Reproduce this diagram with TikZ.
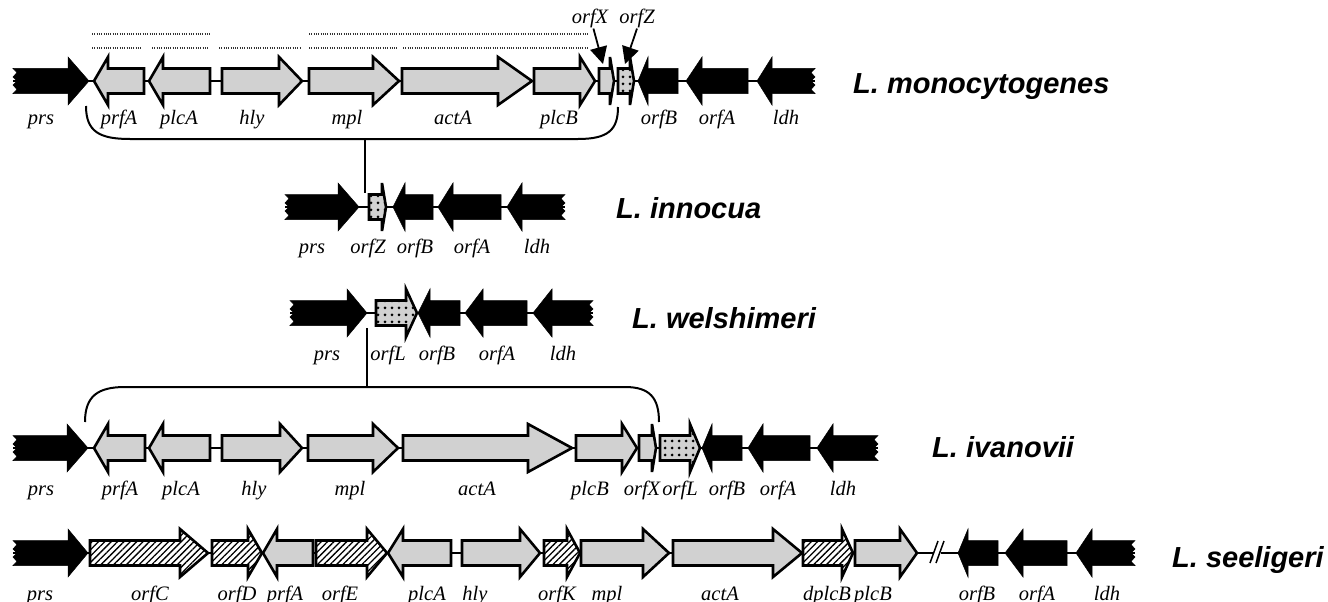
\documentclass[tikz,border=0pt]{standalone}
\usepackage{fontspec}
\setmainfont{Liberation Serif}
\newfontfamily\spfont{Liberation Sans}
\usetikzlibrary{arrows.meta,patterns.meta}
\definecolor{genegray}{gray}{0.82}
\tikzstyle{gray gene}=[draw=black,line width=2.6pt,fill=genegray]
\tikzstyle{dot gene}=[draw=black,line width=2.6pt,preaction={fill=genegray},pattern={Dots[distance=7pt,radius=1.5pt]}]
\tikzstyle{hatch gene}=[draw=black,line width=2.6pt,preaction={fill=white},pattern={Lines[angle=45,distance=4.5pt,line width=1.3pt]}]
\tikzstyle{black gene}=[fill=black,draw=black,line width=0.5pt]
\tikzstyle{backbone}=[line width=1.5pt]
\tikzstyle{bracket}=[line width=2pt]
\tikzstyle{region}=[line width=1.7pt,black!80,dash pattern=on 1pt off 1.3pt]
\tikzstyle{pointer}=[line width=1.8pt,-{Triangle[length=17pt,width=17pt]}]
\tikzstyle{genelabel}=[font=\itshape\fontsize{20.5}{24}\selectfont,anchor=base,inner sep=0]
\tikzstyle{species}=[font=\spfont\bfseries\itshape\fontsize{29}{34}\selectfont,anchor=base west,inner sep=0]
% gene arrows: [style]{left}{head base}{tip}{y} and [style]{tip}{head base}{right}{y}
\newcommand{\geneR}[5][gray gene]{\draw[#1] (#2,#5-12.5) -- (#3,#5-12.5) -- (#3,#5-24) -- (#4,#5) -- (#3,#5+24) -- (#3,#5+12.5) -- (#2,#5+12.5) -- cycle;}
\newcommand{\geneL}[5][gray gene]{\draw[#1] (#2,#5) -- (#3,#5-24) -- (#3,#5-12.5) -- (#4,#5-12.5) -- (#4,#5+12.5) -- (#3,#5+12.5) -- (#3,#5+24) -- cycle;}
% cut ends: prs and ldh
\newcommand{\prsgene}[4]{\draw[black gene] (#1,#4-12.5) -- (#2,#4-12.5) -- (#2,#4-24) -- (#3,#4) -- (#2,#4+24) -- (#2,#4+12.5) -- (#1,#4+12.5) -- (#1+4,#4+8.5) -- (#1,#4+4) -- (#1+4,#4) -- (#1,#4-4) -- (#1+4,#4-8.5) -- cycle;}
\newcommand{\ldhgene}[4]{\draw[black gene] (#1,#4) -- (#2,#4-24) -- (#2,#4-12.5) -- (#3,#4-12.5) -- (#3-4,#4-8.5) -- (#3,#4-4) -- (#3-4,#4) -- (#3,#4+4) -- (#3-4,#4+8.5) -- (#3,#4+12.5) -- (#2,#4+12.5) -- (#2,#4+24) -- cycle;}

\begin{document}
\begin{tikzpicture}[x=1pt,y=-1pt]
	\useasboundingbox[fill=white] (0,0) rectangle (1328,602);

	% L. monocytogenes
	\draw[backbone] (13,81) -- (815,81);
	\prsgene{13}{68}{89}{81}
	\geneL{94}{108}{144}{81}
	\geneL{149}{163}{210}{81}
	\geneR{222}{279}{302}{81}
	\geneR{309}{373}{399}{81}
	\geneR{402}{498}{532}{81}
	\geneR{534}{580}{595}{81}
	\geneR{599}{610}{614}{81}
	\geneR[dot gene]{618}{630}{634}{81}
	\geneL[black gene]{638}{648}{678}{81}
	\geneL[black gene]{686}{702}{748}{81}
	\ldhgene{757}{772}{815}{81}
	\foreach \a/\b in {92/210,309/588} \draw[region] (\a,34) -- (\b,34);
	\foreach \a/\b in {92/142,152/209,219/300,309/397,403/588} \draw[region] (\a,48) -- (\b,48);
	\foreach \x/\g [count=\i] in {41/prs,119/prfA,179/plcA,252/hly,347/mpl,453/actA,559/plcB,659/orfB,717/orfA,786/ldh}
		\node[genelabel] (mono\i) at (\x,124) {\g};
	\node[genelabel] (lblX) at (590,24) {orfX};
	\node[genelabel] (lblZ) at (637,24) {orfZ};
	\coordinate (tipX) at (603,64);
	\coordinate (tipZ) at (625,64);
	\draw[pointer] (lblX.south east) ++(-15,0) -- (tipX);
	\draw[pointer] (lblZ.south) -- (tipZ);
	\node[species] (mono) at (853,93) {L. monocytogenes};

	% bracket to L. innocua
	\coordinate (b1l) at (86,106);
	\coordinate (b1r) at (618,107);
	\coordinate (b1m) at (365,139);
	\coordinate (innotop) at (365,193);
	\draw[bracket] (b1l) .. controls (86,132) and (100,139) .. (130,139) -- (578,139) .. controls (608,139) and (618,130) .. (b1r);
	\draw[bracket] (b1m) -- (innotop);

	% L. innocua
	\draw[backbone] (285,207) -- (565,207);
	\prsgene{285}{338}{359}{207}
	\geneR[dot gene]{369}{382}{386}{207}
	\geneL[black gene]{393}{405}{433}{207}
	\geneL[black gene]{438}{453}{501}{207}
	\ldhgene{507}{522}{565}{207}
	\foreach \x/\g [count=\i] in {312/prs,368/orfZ,415/orfB,472/orfA,537/ldh}
		\node[genelabel] (inno\i) at (\x,253) {\g};
	\node[species] (inno) at (616,218) {L. innocua};

	% L. welshimeri
	\draw[backbone] (290,313) -- (593,313);
	\prsgene{290}{347}{367}{313}
	\geneR[dot gene]{376}{406}{417}{313}
	\geneL[black gene]{418}{430}{460}{313}
	\geneL[black gene]{465}{483}{527}{313}
	\ldhgene{533}{552}{593}{313}
	\foreach \x/\g [count=\i] in {327/prs,388/orfL,437/orfB,497/orfA,563/ldh}
		\node[genelabel] (wels\i) at (\x,360) {\g};
	\node[species] (wels) at (632,328) {L. welshimeri};

	% bracket to L. ivanovii
	\coordinate (b2l) at (85,422);
	\coordinate (b2r) at (659,422);
	\coordinate (b2m) at (367,387);
	\coordinate (welsbot) at (367,328);
	\draw[bracket] (b2l) .. controls (85,396) and (98,387) .. (125,387) -- (625,387) .. controls (650,387) and (659,398) .. (b2r);
	\draw[bracket] (welsbot) -- (b2m);

	% L. ivanovii
	\draw[backbone] (13,448) -- (878,448);
	\prsgene{13}{67}{88}{448}
	\geneL{94}{108}{145}{448}
	\geneL{149}{163}{210}{448}
	\geneR{222}{280}{302}{448}
	\geneR{308}{373}{398}{448}
	\geneR{403}{528}{572}{448}
	\geneR{576}{622}{637}{448}
	\geneR{639}{652}{656}{448}
	\geneR[dot gene]{660}{690}{700}{448}
	\geneL[black gene]{702}{712}{742}{448}
	\geneL[black gene]{748}{763}{810}{448}
	\ldhgene{817}{833}{878}{448}
	\foreach \x/\g [count=\i] in {41/prs,120/prfA,181/plcA,254/hly,350/mpl,477/actA,590/plcB,642/orfX,680/orfL,727/orfB,778/orfA,843/ldh}
		\node[genelabel] (ivan\i) at (\x,495) {\g};
	\node[species] (ivan) at (932,457) {L. ivanovii};

	% L. seeligeri
	\draw[backbone] (13,553) -- (933,553);
	\draw[backbone] (941,553) -- (1135,553);
	\draw[line width=1.5pt] (930,563) -- (938,541) (936,563) -- (944,541);
	\prsgene{13}{68}{88}{553}
	\geneR[hatch gene]{90}{180}{208}{553}
	\geneR[hatch gene]{212}{248}{262}{553}
	\geneL{263}{277}{313}{553}
	\geneR[hatch gene]{316}{367}{387}{553}
	\geneL{388}{403}{451}{553}
	\geneR{462}{520}{540}{553}
	\geneR[hatch gene]{544}{567}{580}{553}
	\geneR{581}{643}{669}{553}
	\geneR{673}{773}{802}{553}
	\geneR[hatch gene]{803}{842}{853}{553}
	\geneR{855}{900}{917}{553}
	\geneL[black gene]{958}{968}{998}{553}
	\geneL[black gene]{1005}{1023}{1067}{553}
	\ldhgene{1076}{1092}{1135}{553}
	\foreach \x/\g [count=\i] in {40/prs,150/orfC,237/orfD,285/prfA,340/orfE,427/plcA,475/hly,557/orfK,607/mpl,720/actA,827/dplcB,873/plcB,977/orfB,1037/orfA,1107/ldh}
		\node[genelabel] (seel\i) at (\x,600) {\g};
	\node[species] (seel) at (1172,567) {L. seeligeri};
\end{tikzpicture}
\end{document}
